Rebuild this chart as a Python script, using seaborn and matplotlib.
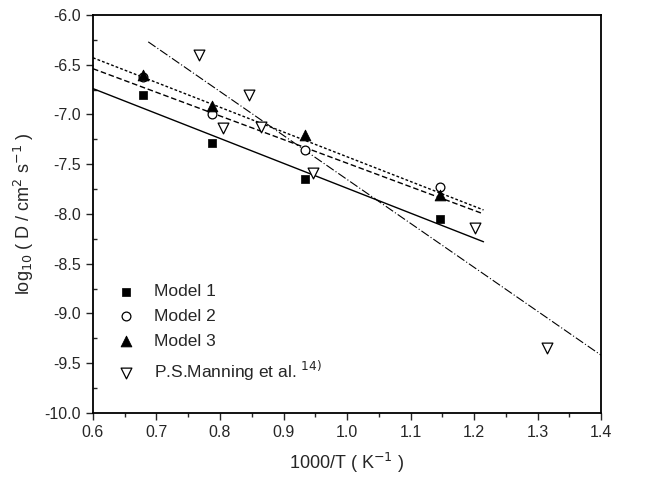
import numpy as np
import pandas as pd
import matplotlib
matplotlib.use("Agg")
import matplotlib.pyplot as plt
from matplotlib.ticker import MultipleLocator
import seaborn as sns

# data
m1_x = [0.679, 0.787, 0.934, 1.146]
m1_y = [-6.80, -7.29, -7.65, -8.05]
m2_x = [0.679, 0.787, 0.934, 1.146]
m2_y = [-6.62, -7.00, -7.36, -7.73]
m3_x = [0.679, 0.787, 0.934, 1.146]
m3_y = [-6.60, -6.91, -7.21, -7.81]
man_x = [0.767, 0.805, 0.846, 0.865, 0.946, 1.201, 1.315]
man_y = [-6.40, -7.14, -6.80, -7.13, -7.59, -8.14, -9.35]

# fitted lines (end points)
fit1_x = [0.60, 1.215]
fit1_y = [-6.74, -8.28]
fit2_x = [0.60, 1.215]
fit2_y = [-6.54, -8.00]
fit3_x = [0.60, 1.215]
fit3_y = [-6.43, -7.96]
fitm_x = [0.687, 1.40]
fitm_y = [-6.27, -9.42]

sns.set_style("white")
plt.rcParams['font.family'] = ['Liberation Sans', 'DejaVu Sans']

fig = plt.figure(figsize=(6.48, 4.84), dpi=100)
ax = fig.add_axes([0.1435, 0.147, 0.784, 0.822])

sns.lineplot(x=fit1_x, y=fit1_y, ax=ax, color='black', lw=1.0, linestyle='-')
sns.lineplot(x=fit2_x, y=fit2_y, ax=ax, color='black', lw=1.0, linestyle=(0, (4, 2)))
sns.lineplot(x=fit3_x, y=fit3_y, ax=ax, color='black', lw=1.0, linestyle=(0, (2, 1.5)))
sns.lineplot(x=fitm_x, y=fitm_y, ax=ax, color='black', lw=0.8, linestyle=(0, (8, 2, 1, 2)))

sns.scatterplot(x=m1_x, y=m1_y, ax=ax, marker='s', s=40, color='black',
                edgecolor='black', label='Model 1', zorder=3)
sns.scatterplot(x=m2_x, y=m2_y, ax=ax, marker='o', s=40, facecolor='white',
                edgecolor='black', linewidth=0.9, label='Model 2', zorder=3)
sns.scatterplot(x=m3_x, y=m3_y, ax=ax, marker='^', s=60, color='black',
                edgecolor='black', label='Model 3', zorder=4)
sns.scatterplot(x=man_x, y=man_y, ax=ax, marker='v', s=60, facecolor='white',
                edgecolor='black', linewidth=0.9, label='P.S.Manning et al. $^{14)}$', zorder=3)

ax.set_xlim(0.6, 1.4)
ax.set_ylim(-10.0, -6.0)
ax.xaxis.set_major_locator(MultipleLocator(0.1))
ax.xaxis.set_minor_locator(MultipleLocator(0.05))
ax.yaxis.set_major_locator(MultipleLocator(0.5))
ax.yaxis.set_minor_locator(MultipleLocator(0.25))
ax.set_xticklabels([f"{v:.1f}" for v in ax.get_xticks()])
ax.set_yticklabels([f"{v:.1f}" for v in ax.get_yticks()])

ax.tick_params(axis='x', which='major', direction='out', length=5, width=1, labelsize=11.5)
ax.tick_params(axis='x', which='minor', direction='out', length=3, width=1)
ax.tick_params(axis='y', which='major', direction='out', length=5, width=1, labelsize=11.5)
ax.tick_params(axis='y', which='minor', direction='in', length=3, width=1)
ax.tick_params(bottom=True, left=True, top=False, right=False)
ax.tick_params(which='minor', bottom=True, left=True, top=False, right=False)

for sp in ax.spines.values():
    sp.set_color('black')
    sp.set_linewidth(1.3)

ax.set_xlabel('1000/T ( K$^{-1}$ )', fontsize=13, labelpad=8)
ax.set_ylabel('log$_{10}$ ( D / cm$^{2}$ s$^{-1}$ )', fontsize=13, labelpad=6)

leg = ax.legend(loc='lower left', bbox_to_anchor=(0.0, 0.037), frameon=False,
                fontsize=12.5, handletextpad=0.6, labelspacing=0.55, markerscale=1.0)

fig.savefig('out.png', dpi=100)
